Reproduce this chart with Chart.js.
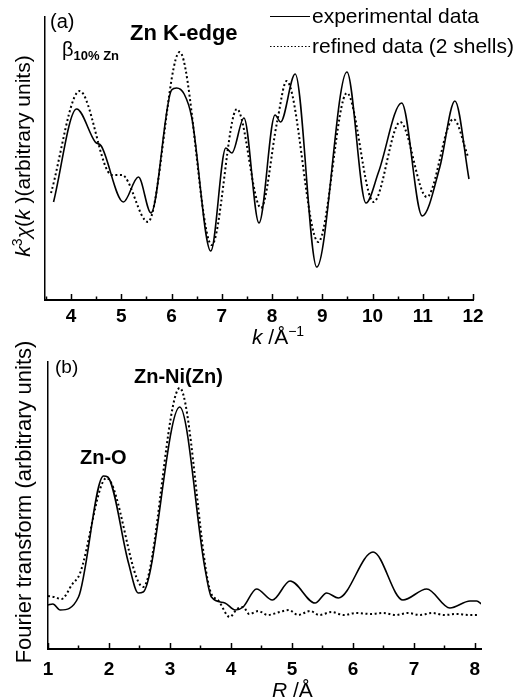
<!DOCTYPE html>
<html>
<head>
<meta charset="utf-8">
<script src="https://cdn.jsdelivr.net/npm/chart.js@4.4.1/dist/chart.umd.min.js"></script>
<style>
  html, body { margin: 0; padding: 0; background: #fff; }
  #wrap { position: relative; width: 520px; height: 699px; overflow: hidden; }
  canvas { position: absolute; left: 0; }
</style>
</head>
<body>
<div id="wrap">
  <canvas id="c1" width="520" height="345" style="top:0"></canvas>
  <canvas id="c2" width="520" height="359" style="top:340px"></canvas>
</div>
<script>
// ---------- DATA (arbitrary units) ----------
// (a) Zn K-edge k^3 chi(k)
const expK   = [3.65, 4.11, 4.48, 4.60, 5.04, 5.34, 5.59, 6.00, 6.10, 6.25, 6.40, 6.78, 7.08, 7.20, 7.44, 7.74, 8.06, 8.17, 8.46, 8.89, 9.49, 9.87, 10.12, 10.58, 10.99, 11.34, 11.64, 11.92];
const expChi = [95, 188, 155, 151, 95, 120, 84, 207, 209, 203, 180, 46, 149, 144, 179, 74, 182, 175, 223, 30, 225, 94, 125, 194, 81, 130, 196, 118];
const fitK   = [3.60, 4.17, 4.81, 5.01, 5.53, 6.16, 6.80, 7.30, 7.78, 8.10, 8.29, 8.92, 9.49, 10.02, 10.55, 11.08, 11.61, 11.91];
const fitChi = [104, 206, 122, 122, 75, 245, 52, 188, 89, 175, 216, 55, 204, 95, 175, 100, 178, 139];
const kTicks = [4, 5, 6, 7, 8, 9, 10, 11, 12];

// (b) Fourier transform vs R
const expR  = [1.00, 1.08, 1.20, 1.50, 1.91, 1.98, 2.32, 2.48, 2.56, 3.16, 3.57, 3.68, 3.90, 4.07, 4.20, 4.42, 4.68, 4.97, 5.38, 5.57, 5.76, 6.33, 6.82, 7.21, 7.59, 7.92, 8.03, 8.11];
const expFT = [44, 45, 39, 52, 173, 172, 86, 56, 57, 242, 82, 52, 46, 39, 42, 60, 49, 68, 46, 56, 51, 97, 49, 60, 41, 48, 48, 45];
const fitR  = [1.00, 1.10, 1.22, 1.40, 1.52, 1.96, 2.56, 3.16, 3.65, 3.80, 3.98, 4.10, 4.20, 4.30, 4.45, 4.60, 4.80, 4.95, 5.10, 5.30, 5.45, 5.65, 5.85, 6.05, 6.30, 6.50, 6.70, 6.90, 7.10, 7.30, 7.50, 7.70, 7.90, 8.05];
const fitFT = [53, 52, 50, 65, 75, 171, 62, 261, 60, 48, 32, 40, 42, 35, 38, 34, 37, 39, 34, 38, 34, 37, 34, 36, 35, 36, 34, 36, 34, 36, 34, 35, 34, 34];
const rTicks = [1, 2, 3, 4, 5, 6, 7, 8];

const legendLabels = ['experimental data', 'refined data (2 shells)'];

// ---------- helpers ----------
const FAM = '"Liberation Sans", Arial, Helvetica, sans-serif';
const pts = (xs, ys) => xs.map((x, i) => ({ x: x, y: ys[i] }));

function drawRuns(ctx, x, y, runs, angle, align) {
  ctx.save();
  ctx.fillStyle = '#000';
  ctx.textBaseline = 'alphabetic';
  let w = 0;
  runs.forEach(r => { ctx.font = r.f; w += ctx.measureText(r.t).width; });
  ctx.translate(x, y);
  if (angle) ctx.rotate(angle);
  let cx = align === 'center' ? -w / 2 : 0;
  runs.forEach(r => {
    ctx.font = r.f;
    ctx.fillText(r.t, cx, r.dy || 0);
    cx += ctx.measureText(r.t).width;
  });
  ctx.restore();
}

function inwardTicks(chart, majors, minorStep) {
  const xs = chart.scales.x, ctx = chart.ctx;
  const y0 = chart.chartArea.bottom;
  ctx.save();
  ctx.strokeStyle = '#000';
  ctx.lineWidth = 1.5;
  ctx.beginPath();
  majors.forEach(v => {
    const p = Math.round(xs.getPixelForValue(v)) + 0.5;
    ctx.moveTo(p, y0); ctx.lineTo(p, y0 - 6);
    const m = v - minorStep;
    if (m >= xs.min) {
      const q = Math.round(xs.getPixelForValue(m)) + 0.5;
      ctx.moveTo(q, y0); ctx.lineTo(q, y0 - 3.5);
    }
  });
  ctx.stroke();
  ctx.restore();
}

function baseOptions(xMin, xMax, yMin, yMax, tickVals, xH, yW, pad, tickPad) {
  return {
    responsive: false,
    animation: false,
    devicePixelRatio: 1,
    layout: { padding: pad },
    plugins: { legend: { display: false }, tooltip: { enabled: false } },
    elements: { point: { radius: 0 } },
    scales: {
      x: {
        type: 'linear', min: xMin, max: xMax,
        afterBuildTicks: s => { s.ticks = tickVals.map(v => ({ value: v })); },
        afterFit: s => { s.height = xH; },
        grid: { display: false, drawTicks: false },
        border: { display: true, color: '#000', width: 2 },
        ticks: { color: '#000', padding: tickPad, maxRotation: 0, autoSkip: false,
                 font: { family: FAM, size: 19, weight: 'bold' } }
      },
      y: {
        type: 'linear', min: yMin, max: yMax,
        afterFit: s => { s.width = yW; },
        grid: { display: false, drawTicks: false },
        border: { display: true, color: '#000', width: 1.5 },
        ticks: { display: false }
      }
    }
  };
}

const solidStyle = { borderColor: '#000', borderWidth: 1.6, fill: false, cubicInterpolationMode: 'monotone', pointRadius: 0 };
const dotStyle   = { borderColor: '#000', borderWidth: 2, borderDash: [2, 2.6], fill: false, cubicInterpolationMode: 'monotone', pointRadius: 0 };

// ---------- chart (a) ----------
const textA = {
  id: 'textA',
  afterDraw(chart) {
    const ctx = chart.ctx;
    inwardTicks(chart, kTicks, 0.5);
    drawRuns(ctx, 50, 28, [{ t: '(a)', f: `20px ${FAM}` }]);
    drawRuns(ctx, 130, 40, [{ t: 'Zn K-edge', f: `bold 22px ${FAM}` }]);
    drawRuns(ctx, 62, 56, [{ t: 'β', f: `20px ${FAM}` }, { t: '10% Zn', f: `bold 13px ${FAM}`, dy: 4 }]);
    // legend
    ctx.save();
    ctx.strokeStyle = '#000';
    ctx.lineWidth = 1.2;
    ctx.beginPath(); ctx.moveTo(270, 16.5); ctx.lineTo(310, 16.5); ctx.stroke();
    ctx.setLineDash([1.5, 2]);
    ctx.beginPath(); ctx.moveTo(270, 46.5); ctx.lineTo(310, 46.5); ctx.stroke();
    ctx.restore();
    drawRuns(ctx, 312, 23, [{ t: legendLabels[0], f: `21px ${FAM}` }]);
    drawRuns(ctx, 312, 53, [{ t: legendLabels[1], f: `21px ${FAM}` }]);
    // axis titles
    drawRuns(ctx, 30, 156, [
      { t: 'k', f: `italic 21px ${FAM}` },
      { t: '3', f: `14px ${FAM}`, dy: -8 },
      { t: 'χ', f: `italic 21px ${FAM}` },
      { t: '(', f: `21px ${FAM}` },
      { t: 'k', f: `italic 21px ${FAM}` },
      { t: ' )(arbitrary units)', f: `21px ${FAM}` }
    ], -Math.PI / 2, 'center');
    drawRuns(ctx, 252, 344, [
      { t: 'k', f: `italic 21px ${FAM}` },
      { t: ' /Å', f: `21px ${FAM}` },
      { t: '−1', f: `14px ${FAM}`, dy: -8 }
    ]);
  }
};

new Chart(document.getElementById('c1'), {
  type: 'line',
  data: {
    datasets: [
      Object.assign({ label: legendLabels[0], data: pts(expK, expChi) }, solidStyle),
      Object.assign({ label: legendLabels[1], data: pts(fitK, fitChi) }, dotStyle)
    ]
  },
  options: baseOptions(3.48, 12, -3, 280, kTicks, 45, 45, { left: 0, right: 47, top: 17, bottom: 0 }, 5),
  plugins: [textA]
});

// ---------- chart (b) ----------
const textB = {
  id: 'textB',
  afterDraw(chart) {
    const ctx = chart.ctx;
    inwardTicks(chart, rTicks, 0.5);
    drawRuns(ctx, 55, 33, [{ t: '(b)', f: `19px ${FAM}` }]);
    drawRuns(ctx, 134, 43, [{ t: 'Zn-Ni(Zn)', f: `bold 20px ${FAM}` }]);
    drawRuns(ctx, 80, 124, [{ t: 'Zn-O', f: `bold 20px ${FAM}` }]);
    drawRuns(ctx, 31, 162, [{ t: 'Fourier transform (arbitrary units)', f: `22px ${FAM}` }], -Math.PI / 2, 'center');
    drawRuns(ctx, 272, 357, [
      { t: 'R', f: `italic 21px ${FAM}` },
      { t: ' /Å', f: `21px ${FAM}` }
    ]);
  }
};

new Chart(document.getElementById('c2'), {
  type: 'line',
  data: {
    datasets: [
      Object.assign({ label: legendLabels[0], data: pts(expR, expFT) }, solidStyle),
      Object.assign({ label: legendLabels[1], data: pts(fitR, fitFT) }, dotStyle)
    ]
  },
  options: baseOptions(1, 8.1, 0, 287, rTicks, 50, 48, { left: 0, right: 39, top: 22, bottom: 0 }, 9),
  plugins: [textB]
});
</script>
</body>
</html>
